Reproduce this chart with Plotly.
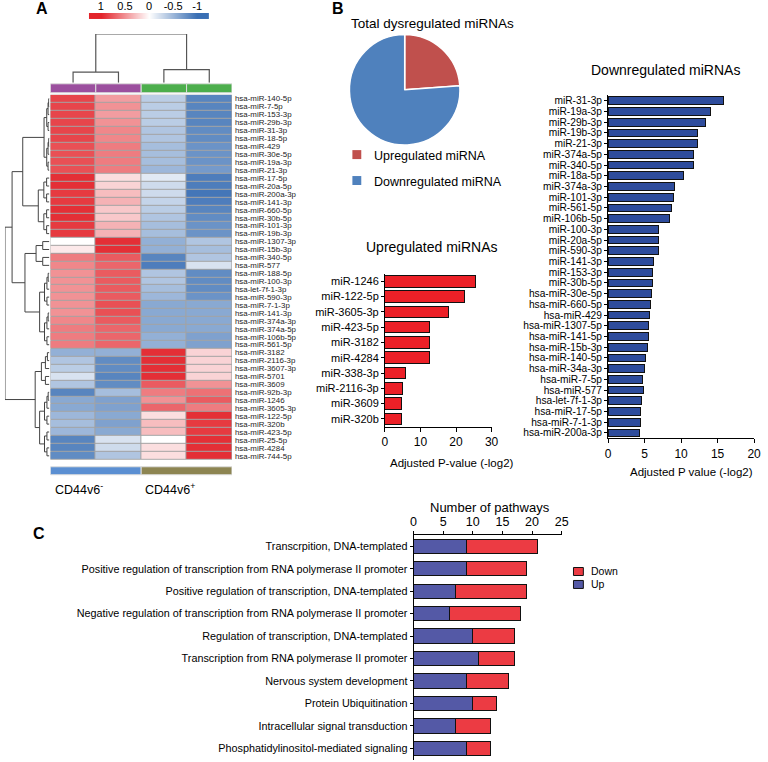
import plotly.graph_objects as go

FONT = "Arial, Liberation Sans, sans-serif"
NARROW = "Liberation Sans Narrow, Arial Narrow, Arial, sans-serif"
W, H = 768, 762

# ---- Panel A: heatmap -------------------------------------------------
MIRNA_ROWS = [
    "hsa-miR-140-5p", "hsa-miR-7-5p", "hsa-miR-153-3p", "hsa-miR-29b-3p", "hsa-miR-31-3p",
    "hsa-miR-18-5p", "hsa-miR-429", "hsa-miR-30e-5p", "hsa-miR-19a-3p", "hsa-miR-21-3p",
    "hsa-miR-17-5p", "hsa-miR-20a-5p", "hsa-miR-200a-3p", "hsa-miR-141-3p", "hsa-miR-660-5p",
    "hsa-miR-30b-5p", "hsa-miR-101-3p", "hsa-miR-19b-3p", "hsa-miR-1307-3p", "hsa-miR-15b-3p",
    "hsa-miR-340-5p", "hsa-miR-577", "hsa-miR-188-5p", "hsa-miR-100-3p", "hsa-let-7f-1-3p",
    "hsa-miR-590-3p", "hsa-miR-7-1-3p", "hsa-miR-141-3p", "hsa-miR-374a-3p", "hsa-miR-374a-5p",
    "hsa-miR-106b-5p", "hsa-miR-561-5p", "hsa-miR-3182", "hsa-miR-2116-3p", "hsa-miR-3607-3p",
    "hsa-miR-5701", "hsa-miR-3609", "hsa-miR-92b-3p", "hsa-miR-1246", "hsa-miR-3605-3p",
    "hsa-miR-122-5p", "hsa-miR-320b", "hsa-miR-423-5p", "hsa-miR-25-5p", "hsa-miR-4284",
    "hsa-miR-744-5p",
]
NEG_1 = [0.85, 0.85, 0.85, 0.85, 0.85, 0.85, 0.8, 0.8, 0.8, 0.8,
         0.95, 0.95, 0.9, 0.9, 0.95, 0.95, 0.9, 0.9, 0.0, 0.1,
         0.6, 0.55, 0.5, 0.5, 0.5, 0.5, 0.5, 0.5, 0.55, 0.6,
         0.6, 0.6, -0.55, -0.4, -0.35, -0.2, -0.4, -0.85, -0.6, -0.6,
         -0.5, -0.45, -0.5, -0.85, -0.85, -0.8]
NEG_2 = [0.45, 0.5, 0.45, 0.5, 0.55, 0.55, 0.6, 0.6, 0.6, 0.6,
         0.15, 0.2, 0.3, 0.35, 0.25, 0.25, 0.35, 0.35, 0.95, 0.95,
         0.75, 0.7, 0.75, 0.75, 0.75, 0.75, 0.8, 0.8, 0.75, 0.7,
         0.7, 0.7, -0.55, -0.8, -0.8, -0.85, -0.8, -0.45, -0.65, -0.65,
         -0.6, -0.65, -0.6, -0.2, -0.25, -0.4]
POS_1 = [-0.35, -0.35, -0.35, -0.35, -0.4, -0.4, -0.45, -0.45, -0.45, -0.5,
         -0.15, -0.25, -0.25, -0.3, -0.35, -0.4, -0.45, -0.45, -0.55, -0.55,
         -0.85, -0.9, -0.4, -0.4, -0.45, -0.5, -0.6, -0.6, -0.6, -0.6,
         -0.55, -0.55, 0.95, 0.95, 0.95, 0.95, 0.75, 0.6, 0.5, 0.7,
         0.15, 0.3, 0.3, 0.0, 0.15, 0.15]
POS_2 = [-0.85, -0.85, -0.85, -0.85, -0.8, -0.8, -0.75, -0.75, -0.75, -0.7,
         -0.9, -0.9, -0.95, -0.9, -0.85, -0.8, -0.75, -0.75, -0.4, -0.45,
         -0.4, -0.2, -0.8, -0.8, -0.8, -0.75, -0.6, -0.6, -0.6, -0.6,
         -0.65, -0.65, 0.2, 0.2, 0.2, 0.2, 0.5, 0.65, 0.75, 0.6,
         0.95, 0.9, 0.9, 0.95, 0.95, 0.95]
SAMPLE_COLS = [NEG_1, NEG_2, POS_1, POS_2]
SAMPLE_COLORS = ["#9b4f9e", "#9b4f9e", "#4cae4c", "#4cae4c"]
GROUP_LABELS = ["CD44v6<sup>-</sup>", "CD44v6<sup>+</sup>"]
GROUP_COLORS = ["#5b8fd2", "#8d8552"]
SCALE_TICKS = [1, 0.5, 0, -0.5, -1]

# dendrograms: [height, left, right]; leaf groups: [height, first_row, last_row]
ROW_TREE = [1.0,
            [0.84,
             [0.6, [0.12, 0, 9], [0.25, 10, 17]],
             [0.55, [0.3, 18, 21], [0.22, 22, 31]]],
            [0.32, [0.18, 32, 36], [0.22, 37, 45]]]
COL_TREE = [1.0, [0.22, 0, 1], [0.27, 2, 3]]

# ---- Panel B ------------------------------------------------------------
PIE_LABELS = ["Upregulated miRNA", "Downregulated miRNA"]
PIE_COUNTS = [10, 32]
PIE_COLORS = ["#c0504d", "#4f81bd"]

UP_MIRNA = ["miR-1246", "miR-122-5p", "miR-3605-3p", "miR-423-5p", "miR-3182",
            "miR-4284", "miR-338-3p", "miR-2116-3p", "miR-3609", "miR-320b"]
UP_PVAL = [25.5, 22.4, 17.9, 12.4, 12.4, 12.4, 5.7, 5.0, 4.7, 4.7]

DOWN_MIRNA = ["miR-31-3p", "miR-19a-3p", "miR-29b-3p", "miR-19b-3p", "miR-21-3p",
              "miR-374a-5p", "miR-340-5p", "miR-18a-5p", "miR-374a-3p", "miR-101-3p",
              "miR-561-5p", "miR-106b-5p", "miR-100-3p", "miR-20a-5p", "miR-590-3p",
              "miR-141-3p", "miR-153-3p", "miR-30b-5p", "hsa-miR-30e-5p", "hsa-miR-660-5p",
              "hsa-miR-429", "hsa-miR-1307-5p", "hsa-miR-141-5p", "hsa-miR-15b-3p", "hsa-miR-140-5p",
              "hsa-miR-34a-3p", "hsa-miR-7-5p", "hsa-miR-577", "hsa-let-7f-1-3p", "hsa-miR-17-5p",
              "hsa-miR-7-1-3p", "hsa-miR-200a-3p"]
DOWN_PVAL = [15.8, 14.1, 13.3, 12.2, 12.2, 11.7, 11.7, 10.3, 9.1, 8.9,
             8.7, 8.4, 6.9, 6.9, 6.9, 6.2, 6.1, 6.1, 6.0, 5.8,
             5.65, 5.55, 5.55, 5.45, 5.15, 5.05, 4.75, 4.8, 4.6, 4.45,
             4.45, 4.3]

# ---- Panel C ------------------------------------------------------------
PATHWAYS = ["Transcrpition, DNA-templated",
            "Positive regulation of transcription from RNA polymerase II promoter",
            "Positive regulation of transcription, DNA-templated",
            "Negative regulation of transcription from RNA polymerase II promoter",
            "Regulation of transcription, DNA-templated",
            "Transcription from RNA polymerase II promoter",
            "Nervous system development",
            "Protein Ubiquitination",
            "Intracellular signal transduction",
            "Phosphatidylinositol-mediated signaling"]
PATH_UP = [9, 9, 7, 6, 10, 11, 9, 10, 7, 9]
PATH_DOWN = [12, 10, 12, 12, 7, 6, 7, 4, 6, 4]
PATH_NAMES = ["Down", "Up"]
PATH_COLORS = ["#ec3b43", "#5459a6"]

HEAT_SCALE = [[0, "#3a6fb4"], [0.5, "#ffffff"], [1, "#e3242b"]]


def px_x(p):
    return p / W


def px_y(p):
    return 1 - p / H


def split_group(lo, hi, h, segs):
    if lo == hi:
        return lo, 0.0
    mid = (lo + hi) // 2
    a = split_group(lo, mid, h * 0.5, segs)
    b = split_group(mid + 1, hi, h * 0.5, segs)
    segs.append((a, b, h))
    return (a[0] + b[0]) / 2, h


def walk(node, segs):
    if isinstance(node[1], int):
        return split_group(node[1], node[2], node[0], segs)
    a = walk(node[1], segs)
    b = walk(node[2], segs)
    segs.append((a, b, node[0]))
    return (a[0] + b[0]) / 2, node[0]


def dendro_xy(tree, leaf_axis_is_y):
    segs = []
    walk(tree, segs)
    pos, hts = [], []
    for (p1, h1), (p2, h2), h in segs:
        pos += [p1, p1, p2, p2, None]
        hts += [h1, h, h, h2, None]
    return (hts, pos) if leaf_axis_is_y else (pos, hts)


fig = go.Figure()

# heatmap
z = [[col[i] for col in SAMPLE_COLS] for i in range(len(MIRNA_ROWS))]
fig.add_trace(go.Heatmap(z=z, x=[0, 1, 2, 3], y=list(range(len(MIRNA_ROWS))),
                         colorscale=HEAT_SCALE, zmin=-1, zmax=1, showscale=False,
                         xgap=1, ygap=1, hoverinfo="skip", xaxis="x", yaxis="y"))

# colour key
fig.add_trace(go.Heatmap(z=[SCALE_TICKS], x=SCALE_TICKS, y=[0], zsmooth="best",
                         colorscale=HEAT_SCALE, zmin=-1, zmax=1, showscale=False,
                         hoverinfo="skip", xaxis="x5", yaxis="y5"))

# dendrograms
rx, ry = dendro_xy(ROW_TREE, True)
fig.add_trace(go.Scatter(x=rx, y=ry, mode="lines", line=dict(color="#444", width=1),
                         showlegend=False, hoverinfo="skip", xaxis="x3", yaxis="y"))
cx, cy = dendro_xy(COL_TREE, False)
fig.add_trace(go.Scatter(x=cx, y=cy, mode="lines", line=dict(color="#555", width=1.2),
                         showlegend=False, hoverinfo="skip", xaxis="x4", yaxis="y4"))

# pie
fig.add_trace(go.Pie(labels=PIE_LABELS, values=PIE_COUNTS, sort=False,
                     direction="counterclockwise", rotation=0,
                     marker=dict(colors=PIE_COLORS, line=dict(color="white", width=1.5)),
                     textinfo="none", showlegend=False, hoverinfo="skip",
                     domain=dict(x=[px_x(351), px_x(463)], y=[px_y(145), px_y(33)])))

# upregulated bars
fig.add_trace(go.Bar(x=UP_PVAL, y=UP_MIRNA, orientation="h", width=0.76,
                     marker=dict(color="#ec2027", line=dict(color="#111", width=1)),
                     showlegend=False, xaxis="x6", yaxis="y6"))

# downregulated bars
fig.add_trace(go.Bar(x=DOWN_PVAL, y=DOWN_MIRNA, orientation="h", width=0.72,
                     marker=dict(color="#2e4c9c", line=dict(color="#111", width=1)),
                     showlegend=False, xaxis="x7", yaxis="y7"))

# pathways
fig.add_trace(go.Bar(x=PATH_UP, y=PATHWAYS, orientation="h", name="Up", width=0.64,
                     marker=dict(color=PATH_COLORS[1], line=dict(color="#111", width=1)),
                     showlegend=False, xaxis="x8", yaxis="y8"))
fig.add_trace(go.Bar(x=PATH_DOWN, y=PATHWAYS, orientation="h", name="Down", width=0.64,
                     marker=dict(color=PATH_COLORS[0], line=dict(color="#111", width=1)),
                     showlegend=False, xaxis="x8", yaxis="y8"))

hidden = dict(visible=False, showgrid=False, zeroline=False)
axis_common = dict(showline=True, linecolor="black", linewidth=1, ticks="outside",
                   ticklen=4, tickcolor="black", showgrid=False, zeroline=False,
                   tickfont=dict(family=FONT, size=12, color="black"))

heat_x = [px_x(48), px_x(232)]
fig.update_layout(
    width=W, height=H, margin=dict(l=0, r=0, t=0, b=0),
    paper_bgcolor="white", plot_bgcolor="white", barmode="stack",
    font=dict(family=FONT, color="black"),
    xaxis=dict(domain=heat_x, range=[-0.5, 3.5], **hidden),
    yaxis=dict(domain=[px_y(460), px_y(94)], range=[len(MIRNA_ROWS) - 0.5, -0.5],
               tickvals=list(range(len(MIRNA_ROWS))), ticktext=MIRNA_ROWS, side="right",
               ticks="", showgrid=False, zeroline=False, showline=False,
               tickfont=dict(family=FONT, size=7.9, color="#222"), ticklabelstandoff=2),
    xaxis3=dict(domain=[px_x(2), px_x(47)], range=[1.0, 0], anchor="y", **hidden),
    xaxis4=dict(domain=heat_x, range=[-0.5, 3.5], anchor="y4", **hidden),
    yaxis4=dict(domain=[px_y(82), px_y(33)], range=[0, 1], anchor="x4", **hidden),
    xaxis5=dict(domain=[px_x(87), px_x(209)], range=[1.25, -1.25], anchor="y5", side="top",
                tickvals=SCALE_TICKS, ticktext=[str(t) for t in SCALE_TICKS], ticks="",
                showgrid=False, zeroline=False, showline=False,
                tickfont=dict(family=FONT, size=11, color="black")),
    yaxis5=dict(domain=[px_y(18), px_y(12)], anchor="x5", **hidden),
    xaxis6=dict(domain=[px_x(387), px_x(495)], range=[0, 30], anchor="y6",
                tickvals=[0, 10, 20, 30], **axis_common),
    yaxis6=dict(domain=[px_y(426.7), px_y(273.3)], autorange="reversed", anchor="x6",
                tickmode="array", tickvals=UP_MIRNA,
                **{**axis_common, "tickfont": dict(family=FONT, size=11), "ticklen": 3}),
    xaxis7=dict(domain=[px_x(613), px_x(761)], range=[0, 20], anchor="y7",
                tickvals=[0, 5, 10, 15, 20], **axis_common),
    yaxis7=dict(domain=[px_y(438.4), px_y(94.6)], autorange="reversed", anchor="x7",
                tickmode="array", tickvals=DOWN_MIRNA,
                **{**axis_common, "tickfont": dict(family=FONT, size=10.2), "ticklen": 3}),
    xaxis8=dict(domain=[px_x(416), px_x(566)], range=[0, 25], anchor="y8", side="top",
                tickvals=[0, 5, 10, 15, 20, 25],
                **{**axis_common, "tickfont": dict(family=NARROW, size=12.5), "ticklen": 3}),
    yaxis8=dict(domain=[px_y(760.5), px_y(535.5)], autorange="reversed", anchor="x8",
                tickmode="array", tickvals=PATHWAYS,
                **{**axis_common, "tickfont": dict(family=NARROW, size=10.8), "ticklen": 3}),
)

shapes = [dict(type="rect", xref="x domain", yref="y domain", x0=0, x1=1, y0=0, y1=1,
               fillcolor="#a3a3a3", line=dict(width=0), layer="below")]
for i, c in enumerate(SAMPLE_COLORS):
    shapes.append(dict(type="rect", xref="x", yref="paper", x0=i - 0.5, x1=i + 0.5,
                       y0=px_y(92), y1=px_y(83), fillcolor=c,
                       line=dict(color="#dddddd", width=1)))
for g, c in enumerate(GROUP_COLORS):
    shapes.append(dict(type="rect", xref="x", yref="paper", x0=2 * g - 0.5, x1=2 * g + 1.5,
                       y0=px_y(475), y1=px_y(467), fillcolor=c,
                       line=dict(color="#dddddd", width=1)))
for k, c in enumerate(PIE_COLORS):
    yc = 154 + 26 * k
    shapes.append(dict(type="rect", xref="paper", yref="paper", x0=px_x(354), x1=px_x(363),
                       y0=px_y(yc + 4.5), y1=px_y(yc - 4.5), fillcolor=c, line=dict(width=0)))
for k, c in enumerate(PATH_COLORS):
    yc = 572 + 13 * k
    shapes.append(dict(type="rect", xref="paper", yref="paper", x0=px_x(578), x1=px_x(588),
                       y0=px_y(yc + 4), y1=px_y(yc - 4), fillcolor=c,
                       line=dict(color="#111", width=1)))
fig.update_layout(shapes=shapes)

ann = [
    dict(text="<b>A</b>", x=px_x(31), y=px_y(8), font=dict(size=16)),
    dict(text="<b>B</b>", x=px_x(331), y=px_y(8), font=dict(size=16)),
    dict(text="<b>C</b>", x=px_x(28), y=px_y(534), font=dict(size=16)),
    dict(text="Total dysregulated miRNAs", x=px_x(351), y=px_y(23), font=dict(size=13.5)),
    dict(text="Upregulated miRNAs", x=px_x(435), y=px_y(247), xanchor="center",
         font=dict(size=14)),
    dict(text="Downregulated miRNAs", x=px_x(671), y=px_y(69), xanchor="center",
         font=dict(size=14)),
    dict(text="Adjusted P-value (-log2)", x=px_x(455), y=px_y(463), xanchor="center",
         font=dict(size=11.5)),
    dict(text="Adjusted P value (-log2)", x=px_x(698), y=px_y(472), xanchor="center",
         font=dict(size=11.5)),
    dict(text="Number of pathways", x=px_x(493), y=px_y(508), xanchor="center",
         font=dict(size=13, family=NARROW)),
    dict(text=GROUP_LABELS[0], x=px_x(77), y=px_y(489), xanchor="center", font=dict(size=12.5)),
    dict(text=GROUP_LABELS[1], x=px_x(169), y=px_y(489), xanchor="center", font=dict(size=12.5)),
]
for k, lab in enumerate(PIE_LABELS):
    ann.append(dict(text=lab, x=px_x(374), y=px_y(155 + 26 * k), font=dict(size=12.5)))
for k, lab in enumerate(PATH_NAMES):
    ann.append(dict(text=lab, x=px_x(594), y=px_y(572 + 13 * k), font=dict(size=10.5, family=NARROW)))
for a in ann:
    a.setdefault("xanchor", "left")
    a.update(xref="paper", yref="paper", yanchor="middle", showarrow=False)
    a["font"] = {"family": FONT, "color": "black", **a["font"]}
fig.update_layout(annotations=ann)

# the page's default 8px body margin would push the figure off its 768x762 frame
fig.write_html("out.html", config={"displayModeBar": False},
               post_script="document.body.style.margin='0px';")
